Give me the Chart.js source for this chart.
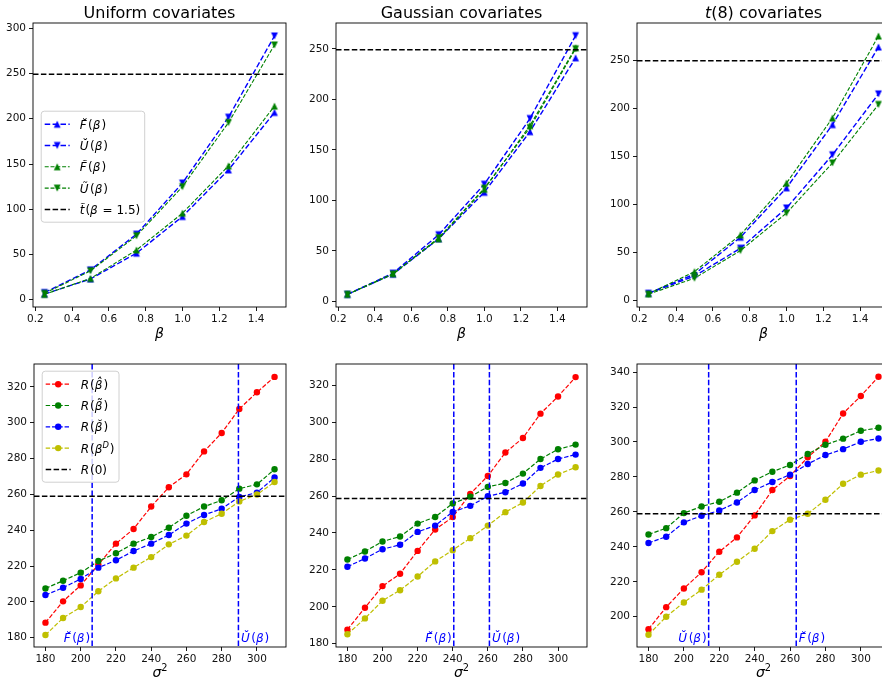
<!DOCTYPE html>
<html><head><meta charset="utf-8">
<script src="https://cdn.jsdelivr.net/npm/chart.js@4.4.1/dist/chart.umd.min.js"></script>
<style>
html,body{margin:0;padding:0;background:#fff;}
body{width:882px;height:683px;overflow:hidden;position:relative;}
canvas{position:absolute;}
</style></head><body>
<script>
// ---------------- data ----------------
const betas = [0.25, 0.5, 0.75, 1.0, 1.25, 1.5];
const sigma2 = [180, 190, 200, 210, 220, 230, 240, 250, 260, 270, 280, 290, 300, 310];

// top row: Uniform
const uniformFBreve = [6.3, 23, 51.5, 92, 143.5, 207];
const uniformUBreve = [8, 33, 72.5, 129, 201.7, 291.5];
const uniformFTilde = [6, 23.5, 55, 95.7, 148, 214];
const uniformUTilde = [7, 32, 70.7, 125, 195.8, 281.5];
const uniformTLine = 249.3;
// top row: Gaussian
const gaussFBreve = [7, 27, 62, 108, 168, 241];
const gaussUBreve = [7, 28, 66, 116, 181, 263];
const gaussFTilde = [7, 27.5, 62, 111, 174, 251];
const gaussUTilde = [7, 27, 63, 112, 172, 250];
const gaussTLine = 249;
// top row: t(8)
const t8FBreve = [7, 27, 65.5, 117, 183, 264];
const t8UBreve = [7, 25, 54, 96, 151.5, 215];
const t8FTilde = [6.5, 29.6, 68, 122, 190, 275.5];
const t8UTilde = [6, 22.7, 51.6, 90.7, 143, 204];
const t8TLine = 249.5;

// bottom row: Uniform
const uniformRHat   = [188.4, 200.3, 209.2, 220.8, 232.5, 240.7, 253.2, 264, 271.2, 284, 294.3, 307.7, 317, 325.6];
const uniformRTilde = [207.5, 211.8, 216.3, 222.8, 227.1, 232.5, 236.2, 241.4, 248.1, 253.2, 256.7, 263.2, 265.6, 274];
const uniformRBreve = [203.8, 207.9, 212.8, 219.1, 223.2, 228.4, 232.5, 237.3, 243.7, 248.5, 252, 258.6, 261, 269.4];
const uniformRD     = [181.5, 191, 197.1, 205.9, 213.1, 219.1, 225, 232.1, 237, 244.6, 249.2, 256.1, 259.9, 266.9];
const uniformR0 = 258.9;
const uniformVF = 206.5, uniformVU = 289.5;
// bottom row: Gaussian
const gaussRHat   = [187.6, 199.5, 211.2, 217.9, 230.3, 241.9, 248.6, 261.2, 270.9, 283.6, 291.5, 304.7, 314, 324.5];
const gaussRTilde = [225.6, 230, 235.4, 238.1, 245.1, 248.7, 256, 259.7, 265, 267.1, 272.2, 280.1, 285.4, 287.9];
const gaussRBreve = [221.7, 226.2, 231.2, 233.6, 240.6, 244, 251.4, 254.7, 259.9, 262.1, 266.8, 275.3, 280.1, 282.5];
const gaussRD     = [185.1, 193.7, 203.3, 209, 216.4, 224.6, 230.7, 237.2, 244, 251.3, 256.5, 265.5, 271.7, 275.6];
const gaussR0 = 258.7;
const gaussVF = 240.6, gaussVU = 260.9;
// bottom row: t(8)
const t8RHat   = [192.9, 205.5, 216.2, 225.5, 237.2, 245.4, 258, 272.5, 280.5, 291.2, 300.1, 316.3, 326.3, 337.3];
const t8RTilde = [247.1, 250.7, 259.3, 263.1, 265.8, 271, 278, 283, 286.8, 293.1, 298.4, 301.9, 306.4, 308.1];
const t8RBreve = [242.2, 245.8, 254, 257.8, 260.8, 265.4, 272.5, 277.1, 281.3, 287.4, 292.5, 295.9, 300.1, 302];
const t8RD     = [189.7, 200, 208.2, 215.5, 224, 231.5, 238.9, 249, 255.5, 258.9, 266.9, 276.1, 281.3, 283.7];
const t8R0 = 258.9;
const t8VF = 263.5, t8VU = 214;

// ---------------- styling ----------------
const FONT = '"DejaVu Sans", sans-serif';
const BLUE = '#0000ff', GREEN = '#008000', RED = '#ff0000', YELLOW = '#bfbf00', BLACK = '#000000';

function triMarker(color, down) {
  const s = 10, c = document.createElement('canvas');
  c.width = s; c.height = s;
  const g = c.getContext('2d'), h = 3.4, m = s / 2;
  g.beginPath();
  if (!down) { g.moveTo(m, m - h); g.lineTo(m - h, m + h); g.lineTo(m + h, m + h); }
  else { g.moveTo(m, m + h); g.lineTo(m - h, m - h); g.lineTo(m + h, m - h); }
  g.closePath(); g.fillStyle = color; g.fill();
  return c;
}
const mBlueUp = triMarker(BLUE, false), mBlueDown = triMarker(BLUE, true);
const mGreenUp = triMarker(GREEN, false), mGreenDown = triMarker(GREEN, true);

// label segments (mathtext-like)
const L_FBreve = [{t: 'F\u0306', it: true, gap: 1.5}, {t: '('}, {t: '\u03B2', it: true, gap: 1}, {t: ')'}];
const L_UBreve = [{t: 'U\u0306', it: true, gap: 1.5}, {t: '('}, {t: '\u03B2', it: true, gap: 1}, {t: ')'}];
const L_FTilde = [{t: 'F\u0303', it: true, gap: 1.5}, {t: '('}, {t: '\u03B2', it: true, gap: 1}, {t: ')'}];
const L_UTilde = [{t: 'U\u0303', it: true, gap: 1.5}, {t: '('}, {t: '\u03B2', it: true, gap: 1}, {t: ')'}];
const L_tTilde = [{t: 't\u0303', it: true, gap: 1}, {t: '('}, {t: '\u03B2', it: true, gap: 1}, {t: ' = 1.5)'}];
const L_RHat   = [{t: 'R', it: true, gap: 1}, {t: '('}, {t: '\u03B2\u0302', it: true, gap: 1}, {t: ')'}];
const L_RTilde = [{t: 'R', it: true, gap: 1}, {t: '('}, {t: '\u03B2\u0303', it: true, gap: 1}, {t: ')'}];
const L_RBreve = [{t: 'R', it: true, gap: 1}, {t: '('}, {t: '\u03B2\u0306', it: true, gap: 1}, {t: ')'}];
const L_RD     = [{t: 'R', it: true, gap: 1}, {t: '('}, {t: '\u03B2', it: true}, {t: 'D', it: true, sup: true, gap: 1}, {t: ')'}];
const L_R0     = [{t: 'R', it: true, gap: 1}, {t: '(0)'}];

function segFont(s, size) {
  const fs = s.sup ? size * 0.7 : size;
  return (s.it ? 'italic ' : '') + fs + 'px ' + FONT;
}
function drawRich(ctx, segs, x, y, size, align, color) {
  let total = 0;
  const ws = segs.map(s => { ctx.font = segFont(s, size); const w = ctx.measureText(s.t).width + (s.gap || 0); total += w; return w; });
  let cx = align === 'center' ? x - total / 2 : align === 'right' ? x - total : x;
  ctx.fillStyle = color; ctx.textAlign = 'left'; ctx.textBaseline = 'alphabetic';
  segs.forEach((s, i) => { ctx.font = segFont(s, size); ctx.fillText(s.t, cx, s.sup ? y - size * 0.42 : y); cx += ws[i]; });
  return total;
}
function richWidth(ctx, segs, size) {
  let total = 0;
  segs.forEach(s => { ctx.font = segFont(s, size); total += ctx.measureText(s.t).width + (s.gap || 0); });
  return total;
}

function makeDeco(p) {
  return {
    id: 'deco',
    afterDatasetsDraw(chart) {
      const ctx = chart.ctx, a = chart.chartArea, xs = chart.scales.x, ys = chart.scales.y;
      ctx.save();
      ctx.beginPath(); ctx.rect(a.left, a.top, a.right - a.left, a.bottom - a.top); ctx.clip();
      // vertical lines
      (p.vlines || []).forEach(v => {
        const px = xs.getPixelForValue(v.x);
        ctx.strokeStyle = BLUE; ctx.lineWidth = 1.5; ctx.setLineDash([5.5, 2.4]);
        ctx.beginPath(); ctx.moveTo(px, a.top); ctx.lineTo(px, a.bottom); ctx.stroke();
      });
      // horizontal reference line
      const py = ys.getPixelForValue(p.hline);
      ctx.strokeStyle = BLACK; ctx.lineWidth = 1.5; ctx.setLineDash([5.5, 2.4]);
      ctx.beginPath(); ctx.moveTo(a.left, py); ctx.lineTo(a.right, py); ctx.stroke();
      ctx.setLineDash([]);
      // vline labels
      (p.vlines || []).forEach(v => {
        const px = xs.getPixelForValue(v.x);
        if (v.side === 'left') drawRich(ctx, v.label, px - 2, a.bottom - 5, 12, 'right', BLUE);
        else drawRich(ctx, v.label, px + 2.5, a.bottom - 5, 12, 'left', BLUE);
      });
      ctx.restore();

      // legend
      if (p.legend) {
        const lg = p.legend, size = 12;
        let maxW = 0;
        lg.items.forEach(it => { maxW = Math.max(maxW, richWidth(ctx, it.label, size)); });
        const bx = a.left + lg.dx, by = a.top + lg.dy, bw = 39 + maxW + 4, bh = 111;
        ctx.save();
        ctx.fillStyle = 'rgba(255,255,255,0.8)'; ctx.strokeStyle = '#d0d0d0'; ctx.lineWidth = 1;
        ctx.beginPath(); ctx.roundRect(bx + 0.5, by + 0.5, bw, bh, 3); ctx.fill(); ctx.stroke();
        lg.items.forEach((it, i) => {
          const cy = by + 13.5 + 21.3 * i;
          ctx.strokeStyle = it.color; ctx.lineWidth = it.lw; ctx.setLineDash(it.dash);
          ctx.beginPath(); ctx.moveTo(bx + 4, cy); ctx.lineTo(bx + 29, cy); ctx.stroke();
          ctx.setLineDash([]);
          if (it.img) ctx.drawImage(it.img, bx + 16.5 - it.img.width / 2, cy - it.img.height / 2);
          if (it.circle) { ctx.fillStyle = it.color; ctx.beginPath(); ctx.arc(bx + 16.5, cy, 3.2, 0, Math.PI * 2); ctx.fill(); }
          drawRich(ctx, it.label, bx + 39, cy + 4.5, size, 'left', '#000');
        });
        ctx.restore();
      }

      // frame
      ctx.save();
      ctx.strokeStyle = '#000'; ctx.lineWidth = 0.9;
      ctx.strokeRect(a.left, a.top, a.right - a.left, a.bottom - a.top);
      ctx.restore();

      // title & x label
      const cx = (a.left + a.right) / 2;
      if (p.title) drawRich(ctx, p.title, cx, a.top - 4.6, 16, 'center', '#000');
      drawRich(ctx, p.xlabel, cx, a.bottom + p.xlabelOff, 14, 'center', '#000');
    }
  };
}

function build(p) {
  const cv = document.createElement('canvas');
  cv.width = p.W; cv.height = p.H;
  cv.style.left = p.x + 'px'; cv.style.top = p.y + 'px';
  document.body.appendChild(cv);
  const n = p.series.length;
  const datasets = p.series.map((s, i) => ({
    label: 's' + i,
    data: p.xs.map((x, j) => ({x: x, y: s.values[j]})),
    borderColor: s.color, backgroundColor: s.color,
    borderWidth: s.lw, borderDash: s.dash,
    pointStyle: s.img || 'circle', pointRadius: s.img ? 5 : 3.2,
    pointBackgroundColor: s.color, pointBorderColor: s.color, pointBorderWidth: 0,
    showLine: true, tension: 0, fill: false, order: n - i
  }));
  const tickFont = {family: 'DejaVu Sans', size: 10.5};
  new Chart(cv, {
    type: 'scatter',
    data: {datasets},
    options: {
      responsive: false, animation: false, devicePixelRatio: 1,
      layout: {padding: {top: 23, right: 6, left: 0, bottom: 0}},
      plugins: {legend: {display: false}, tooltip: {enabled: false}},
      scales: {
        x: {
          type: 'linear', min: p.xmin, max: p.xmax,
          afterFit(s) { s.height = 36; },
          border: {display: false},
          grid: {display: true, drawOnChartArea: false, drawTicks: true, tickLength: 4, tickColor: '#000', tickWidth: 0.9},
          ticks: {stepSize: p.xstep, includeBounds: false, font: tickFont, color: '#111', padding: 2, maxRotation: 0, autoSkip: false,
                  callback: v => p.xdec ? Number(v).toFixed(p.xdec) : String(v)}
        },
        y: {
          type: 'linear', min: p.ymin, max: p.ymax,
          afterFit(s) { s.width = 34; },
          border: {display: false},
          grid: {display: true, drawOnChartArea: false, drawTicks: true, tickLength: 4, tickColor: '#000', tickWidth: 0.9},
          ticks: {stepSize: p.ystep, includeBounds: false, font: tickFont, color: '#111', padding: 3, autoSkip: false,
                  callback: v => String(v)}
        }
      }
    },
    plugins: [makeDeco(p)]
  });
}

// ---------------- top row ----------------
const dashB = [5.5, 2.4], dashG = [4, 1.8];
function topSeries(fb, ub, ft, ut) {
  return [
    {values: fb, color: BLUE, lw: 1.4, dash: dashB, img: mBlueUp},
    {values: ub, color: BLUE, lw: 1.4, dash: dashB, img: mBlueDown},
    {values: ft, color: GREEN, lw: 1.1, dash: dashG, img: mGreenUp},
    {values: ut, color: GREEN, lw: 1.1, dash: dashG, img: mGreenDown}
  ];
}
const topLegend = {dx: 7.7, dy: 87.7, items: [
  {label: L_FBreve, color: BLUE, lw: 1.4, dash: dashB, img: mBlueUp},
  {label: L_UBreve, color: BLUE, lw: 1.4, dash: dashB, img: mBlueDown},
  {label: L_FTilde, color: GREEN, lw: 1.1, dash: dashG, img: mGreenUp},
  {label: L_UTilde, color: GREEN, lw: 1.1, dash: dashG, img: mGreenDown},
  {label: L_tTilde, color: BLACK, lw: 1.5, dash: dashB}
]};
const betaLabel = [{t: '\u03B2', it: true}];
const sigmaLabel = [{t: '\u03C3', it: true}, {t: '2', sup: true}];

build({x: -1, y: 0, W: 293, H: 343, xs: betas, xmin: 0.1875, xmax: 1.5625, ymin: -8, ymax: 305.8, xstep: 0.2, ystep: 50, xdec: 1,
  series: topSeries(uniformFBreve, uniformUBreve, uniformFTilde, uniformUTilde), hline: uniformTLine,
  title: [{t: 'Uniform covariates'}], xlabel: betaLabel, xlabelOff: 31, legend: topLegend});
build({x: 302, y: 0, W: 291, H: 343, xs: betas, xmin: 0.1875, xmax: 1.5625, ymin: -5.5, ymax: 275.5, xstep: 0.2, ystep: 50, xdec: 1,
  series: topSeries(gaussFBreve, gaussUBreve, gaussFTilde, gaussUTilde), hline: gaussTLine,
  title: [{t: 'Gaussian covariates'}], xlabel: betaLabel, xlabelOff: 31});
build({x: 603, y: 0, W: 293, H: 343, xs: betas, xmin: 0.1875, xmax: 1.5625, ymin: -7.3, ymax: 289, xstep: 0.2, ystep: 50, xdec: 1,
  series: topSeries(t8FBreve, t8UBreve, t8FTilde, t8UTilde), hline: t8TLine,
  title: [{t: 't', it: true}, {t: '(8) covariates'}], xlabel: betaLabel, xlabelOff: 31});

// ---------------- bottom row ----------------
const dashR = [4.4, 1.9];
function botSeries(rh, rt, rb, rd) {
  return [
    {values: rh, color: RED, lw: 1.2, dash: dashR},
    {values: rt, color: GREEN, lw: 1.2, dash: dashR},
    {values: rb, color: BLUE, lw: 1.2, dash: dashR},
    {values: rd, color: YELLOW, lw: 1.2, dash: dashR}
  ];
}
const botLegend = {dx: 7.7, dy: 6.7, items: [
  {label: L_RHat, color: RED, lw: 1.2, dash: dashR, circle: true},
  {label: L_RTilde, color: GREEN, lw: 1.2, dash: dashR, circle: true},
  {label: L_RBreve, color: BLUE, lw: 1.2, dash: dashR, circle: true},
  {label: L_RD, color: YELLOW, lw: 1.2, dash: dashR, circle: true},
  {label: L_R0, color: BLACK, lw: 1.5, dash: dashB}
]};
function vl(a, b) {
  // a, b: {x, label}; smaller one gets its label on the left
  const lo = a.x < b.x ? a : b, hi = a.x < b.x ? b : a;
  return [{x: lo.x, label: lo.label, side: 'left'}, {x: hi.x, label: hi.label, side: 'right'}];
}
build({x: 0, y: 341, W: 292, H: 342, xs: sigma2, xmin: 173.5, xmax: 316.5, ymin: 174.8, ymax: 332.8, xstep: 20, ystep: 20, xdec: 0,
  series: botSeries(uniformRHat, uniformRTilde, uniformRBreve, uniformRD), hline: uniformR0,
  vlines: vl({x: uniformVF, label: L_FBreve}, {x: uniformVU, label: L_UBreve}),
  xlabel: sigmaLabel, xlabelOff: 29.7, legend: botLegend});
build({x: 302, y: 341, W: 291, H: 342, xs: sigma2, xmin: 173.5, xmax: 316.5, ymin: 178.2, ymax: 331.6, xstep: 20, ystep: 20, xdec: 0,
  series: botSeries(gaussRHat, gaussRTilde, gaussRBreve, gaussRD), hline: gaussR0,
  vlines: vl({x: gaussVF, label: L_FBreve}, {x: gaussVU, label: L_UBreve}),
  xlabel: sigmaLabel, xlabelOff: 29.7});
build({x: 603, y: 341, W: 293, H: 342, xs: sigma2, xmin: 173.5, xmax: 316.5, ymin: 182.7, ymax: 344.6, xstep: 20, ystep: 20, xdec: 0,
  series: botSeries(t8RHat, t8RTilde, t8RBreve, t8RD), hline: t8R0,
  vlines: vl({x: t8VF, label: L_FBreve}, {x: t8VU, label: L_UBreve}),
  xlabel: sigmaLabel, xlabelOff: 29.7});
</script>
</body></html>
